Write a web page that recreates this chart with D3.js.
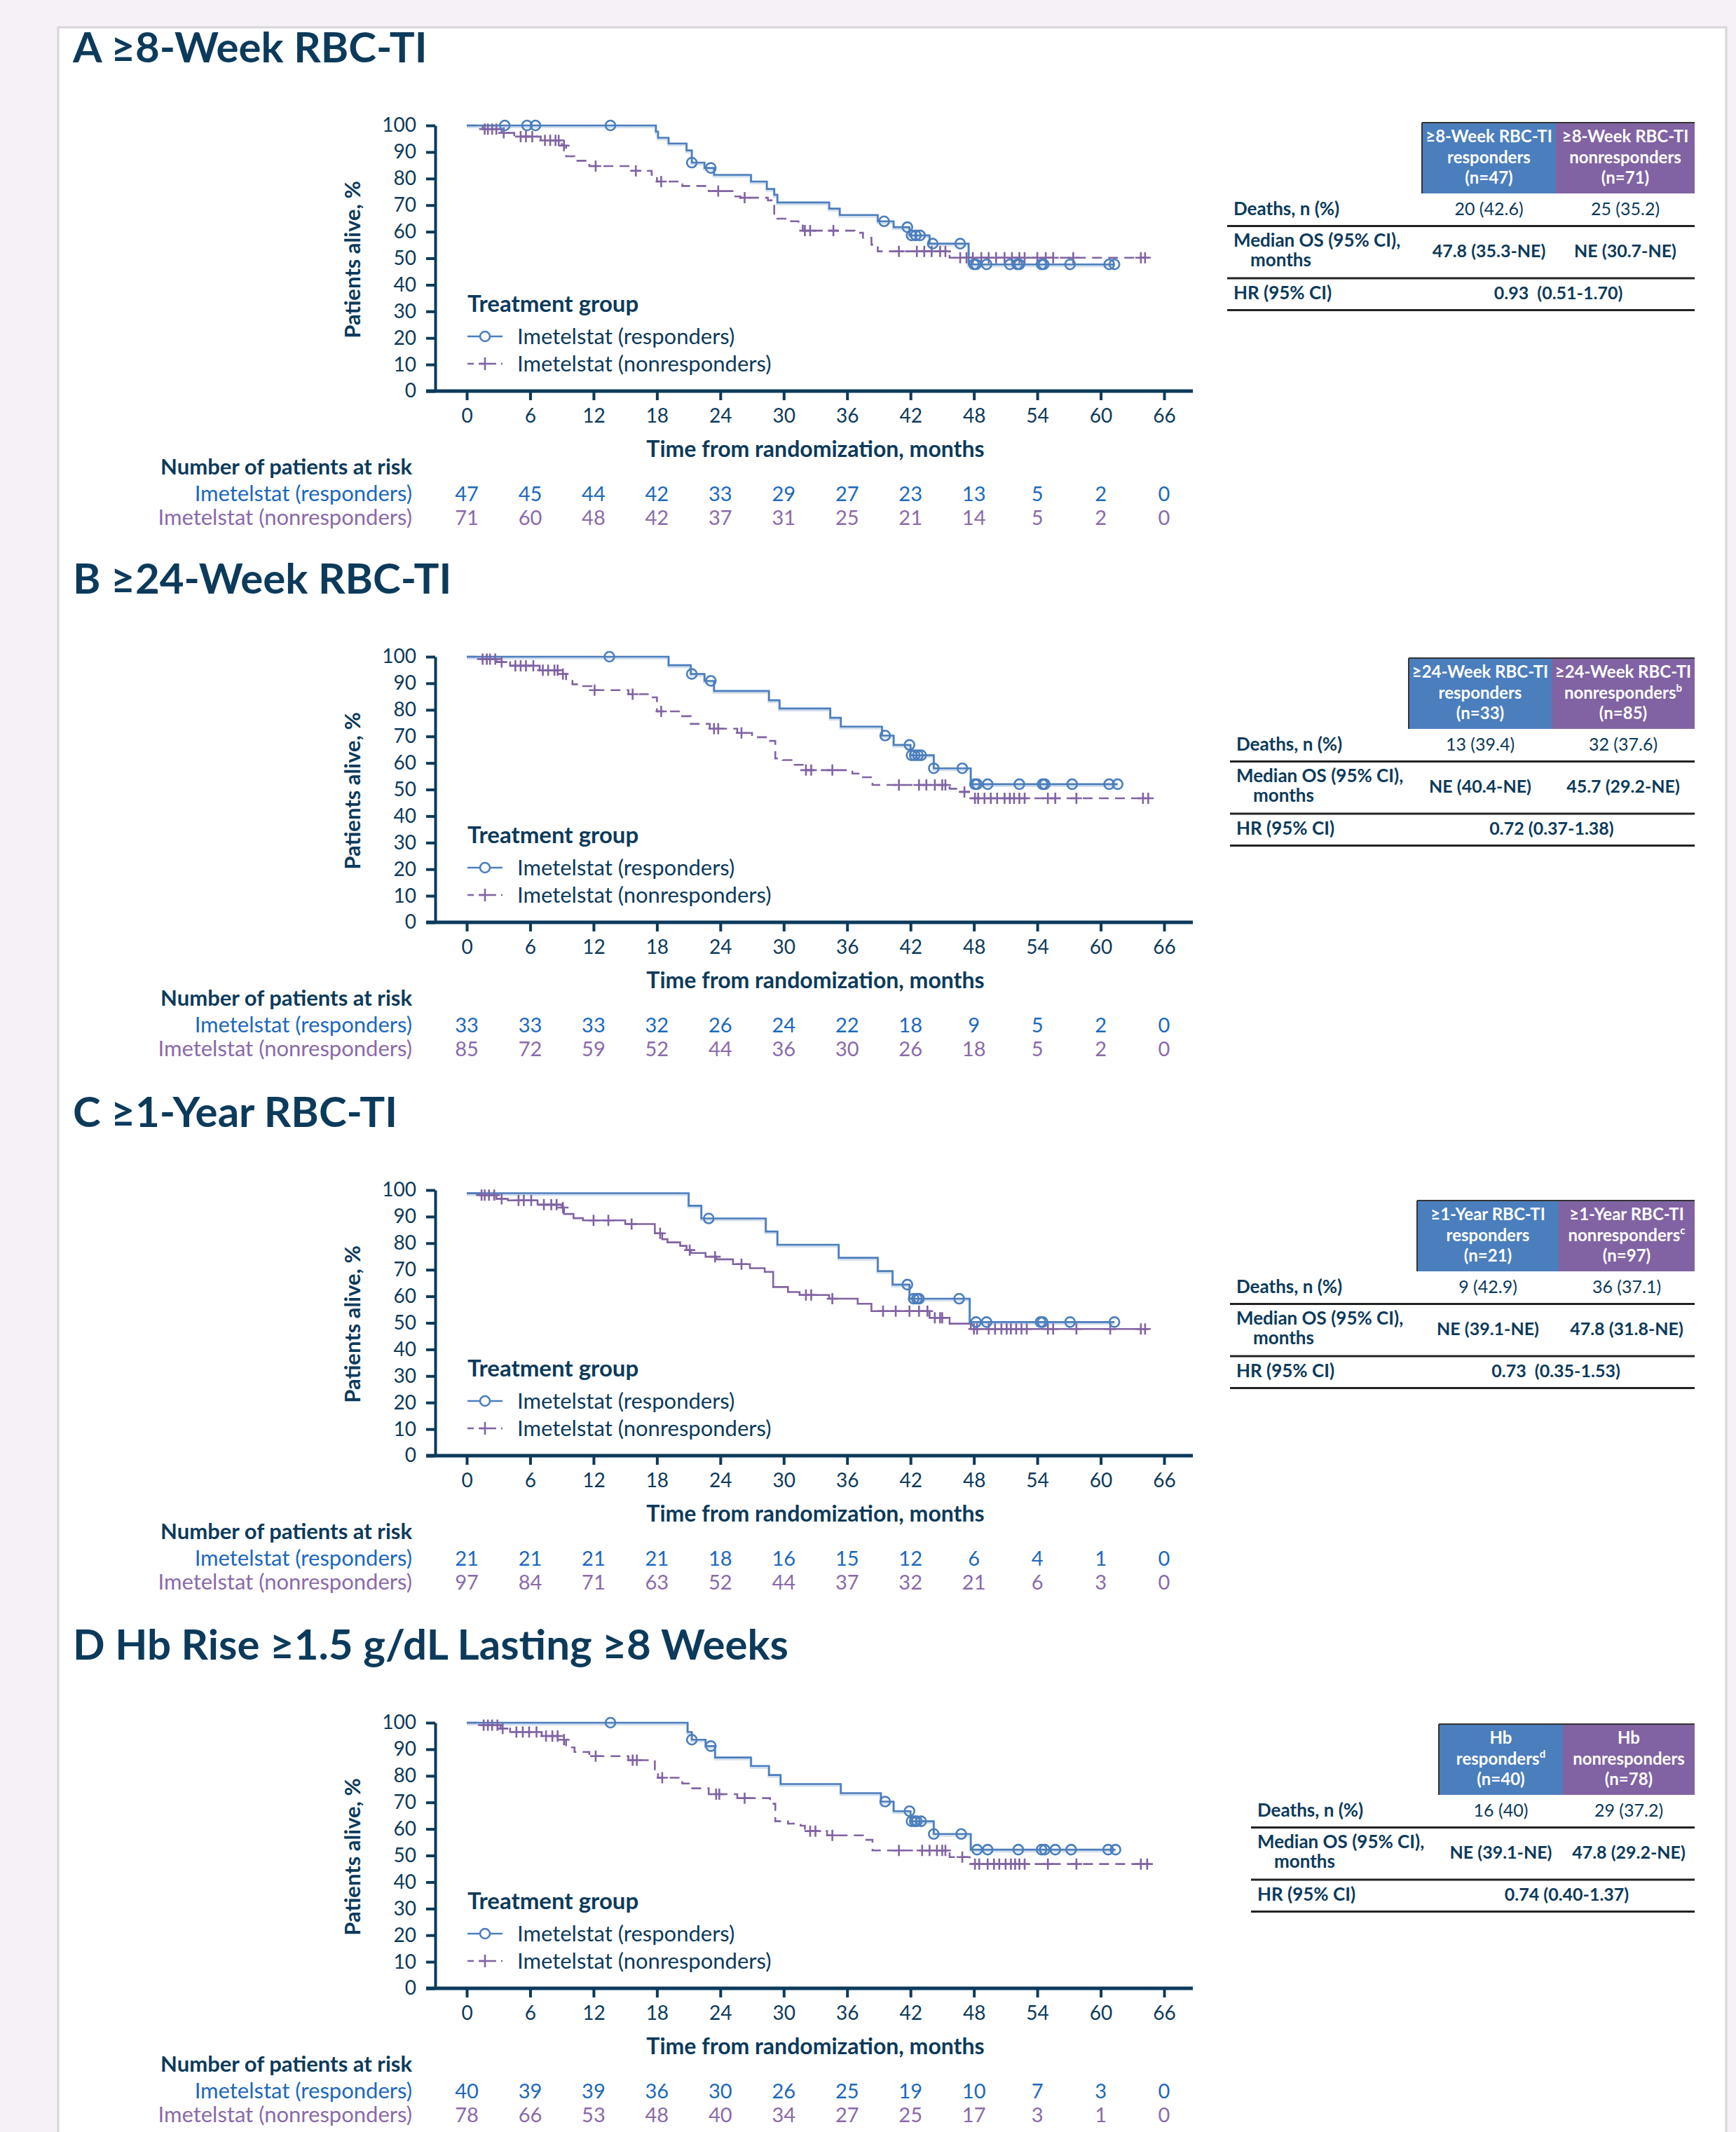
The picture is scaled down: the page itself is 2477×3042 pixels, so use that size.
<!DOCTYPE html>
<html>
<head>
<meta charset="utf-8">
<script src="https://cdn.jsdelivr.net/npm/d3@7"></script>
<style>
  body { margin: 0; background: #f5f1f6; }
  text { font-family: Lato, "Open Sans", sans-serif; fill: #0c3a5b; }
</style>
</head>
<body>
<div id="chart"></div>
<script>
// OS by response status, four panels (A-D)

// shared axis ticks
var monthTicks = [0, 6, 12, 18, 24, 30, 36, 42, 48, 54, 60, 66];
var pctTicks = [0, 10, 20, 30, 40, 50, 60, 70, 80, 90, 100];
var seriesNames = ["Imetelstat (responders)", "Imetelstat (nonresponders)"];

// ---- Panel A: >=8-week RBC-TI
var aTitle = "A \u22658-Week RBC-TI";
var aRespSteps = [[0,100],[17.9,97.7],[18.1,95.4],[19.1,93.2],[20.8,90.6],[21.3,86.0],[22.5,84.0],[23.4,81.4],[26.9,78.9],[28.4,76.1],[29.1,73.9],[29.4,71.0],[34.3,68.7],[35.3,66.3],[38.9,63.9],[40.4,61.7],[41.9,58.6],[43.8,55.5],[47.5,47.7]];
var aRespEnd = 61.3;
var aRespCens = [3.6,5.7,6.5,13.6,21.3,23.1,39.5,41.7,42.1,42.5,42.9,44.1,46.7,48.0,48.2,49.2,51.4,52.1,52.3,54.4,54.6,57.1,60.8,61.3];
var aNonSteps = [[0,100],[1.5,98.6],[3.3,97.2],[4.5,95.8],[7.0,94.4],[9.0,92.4],[9.4,88.4],[10.2,86.7],[11.6,84.7],[15.3,82.9],[17.5,81.4],[18.0,78.9],[20.2,77.9],[20.4,77.2],[22.9,75.3],[25.3,73.3],[25.9,72.8],[28.5,71.8],[29.1,64.9],[30.7,63.9],[31.4,62.8],[31.8,60.4],[36.7,59.6],[37.5,57.7],[38.3,55.1],[38.9,52.6],[45.7,50.2]];
var aNonEnd = 64.6;
var aNonCens = [1.7,2.0,2.4,2.8,3.5,5.1,5.6,6.2,7.4,7.9,8.4,8.7,9.2,12.2,16.0,18.4,23.8,26.3,32.0,32.5,34.7,40.9,42.6,43.3,44.0,44.8,45.3,46.7,47.3,47.9,48.7,49.4,50.1,50.9,51.6,52.3,52.8,54.0,54.8,55.5,57.4,63.8,64.2];
var aRespRisk = [47,45,44,42,33,29,27,23,13,5,2,0];
var aNonRisk = [71,60,48,42,37,31,25,21,14,5,2,0];
var aHead = [["\u22658-Week RBC-TI","responders","(n=47)"],["\u22658-Week RBC-TI","nonresponders","(n=71)"]];
var aSup = ["", ""];
var aDeaths = ["20 (42.6)","25 (35.2)"];
var aMedian = ["47.8 (35.3-NE)","NE (30.7-NE)"];
var aHR = "0.93  (0.51-1.70)";

// ---- Panel B: >=24-week RBC-TI
var bTitle = "B \u226524-Week RBC-TI";
var bRespSteps = [[0,100],[19.1,96.8],[21.2,93.5],[22.5,90.9],[23.4,87.1],[28.6,83.6],[29.6,80.5],[34.4,77.0],[35.4,73.7],[39.3,70.3],[40.4,66.8],[42.0,62.9],[44.2,58.0],[47.7,52.0]];
var bRespEnd = 61.6;
var bRespCens = [13.5,21.3,23.1,39.6,41.9,42.1,42.4,42.7,43.0,44.2,46.9,48.1,48.3,49.3,52.3,54.5,54.7,57.3,60.8,61.6];
var bNonSteps = [[0,100],[1.0,99.1],[2.8,98.0],[4.1,96.6],[6.9,94.9],[9.0,93.5],[9.4,90.9],[10.0,89.6],[10.7,88.9],[11.8,87.4],[15.3,85.9],[17.5,84.7],[18.0,79.4],[20.2,77.6],[21.2,74.7],[23.0,72.9],[25.6,71.3],[27.0,69.7],[28.7,68.3],[29.2,61.7],[29.9,61.1],[30.9,59.3],[31.8,57.3],[36.5,56.0],[37.5,54.6],[38.4,51.7],[45.7,50.3],[46.5,49.1],[47.7,46.7]];
var bNonEnd = 64.6;
var bNonCens = [1.5,1.9,2.2,2.7,3.3,4.6,5.1,5.6,6.3,7.2,7.7,8.3,8.6,9.1,12.1,15.7,18.4,23.4,23.8,26.0,32.1,32.6,34.6,40.9,42.8,43.5,44.3,45.0,45.3,47.1,48.1,48.4,49.0,49.6,50.2,50.9,51.4,51.8,52.3,52.8,55.0,55.7,57.7,64.0,64.5];
var bRespRisk = [33,33,33,32,26,24,22,18,9,5,2,0];
var bNonRisk = [85,72,59,52,44,36,30,26,18,5,2,0];
var bHead = [["\u226524-Week RBC-TI","responders","(n=33)"],["\u226524-Week RBC-TI","nonresponders","(n=85)"]];
var bSup = ["", "b"];
var bDeaths = ["13 (39.4)","32 (37.6)"];
var bMedian = ["NE (40.4-NE)","45.7 (29.2-NE)"];
var bHR = "0.72 (0.37-1.38)";

// ---- Panel C: >=1-year RBC-TI
var cTitle = "C \u22651-Year RBC-TI";
var cRespSteps = [[0,98.8],[21.0,94.1],[22.2,89.3],[28.3,84.4],[29.4,79.4],[35.2,74.5],[38.9,69.5],[40.3,64.4],[41.9,59.1],[47.6,50.3]];
var cRespEnd = 61.3;
var cRespCens = [22.9,41.7,42.3,42.6,42.8,46.6,48.2,49.2,54.3,54.5,57.1,61.3];
var cNonSteps = [[0,98.8],[1.2,98.1],[2.8,96.7],[3.9,96.1],[6.7,94.5],[9.0,93.4],[9.2,91.0],[10.1,89.4],[11.0,88.6],[15.0,87.2],[17.8,83.7],[18.5,81.5],[19.0,80.3],[20.2,79.0],[20.8,77.4],[21.2,76.3],[22.6,74.9],[23.6,73.9],[25.2,72.1],[26.8,70.6],[28.2,69.2],[29.0,63.5],[30.4,61.6],[31.5,60.5],[34.3,59.1],[37.0,57.2],[38.3,54.4],[43.8,51.9],[45.7,49.7],[47.7,47.7]];
var cNonEnd = 64.6;
var cNonCens = [1.4,1.7,2.1,2.6,3.3,4.9,5.4,6.1,7.3,8.0,8.5,9.1,12.0,13.4,15.6,18.3,21.1,23.5,26.0,32.1,32.6,34.6,39.4,40.6,41.9,42.8,43.6,44.3,44.8,45.0,48.0,48.3,49.4,50.0,50.6,51.1,51.5,52.0,52.5,53.0,55.0,55.5,57.7,60.9,63.8,64.2];
var cRespRisk = [21,21,21,21,18,16,15,12,6,4,1,0];
var cNonRisk = [97,84,71,63,52,44,37,32,21,6,3,0];
var cHead = [["\u22651-Year RBC-TI","responders","(n=21)"],["\u22651-Year RBC-TI","nonresponders","(n=97)"]];
var cSup = ["", "c"];
var cDeaths = ["9 (42.9)","36 (37.1)"];
var cMedian = ["NE (39.1-NE)","47.8 (31.8-NE)"];
var cHR = "0.73  (0.35-1.53)";

// ---- Panel D: Hb rise >=1.5 g/dL lasting >=8 weeks
var dTitle = "D Hb Rise \u22651.5 g/dL Lasting \u22658 Weeks";
var dRespSteps = [[0,100],[20.9,96.5],[21.3,93.6],[22.6,91.2],[23.5,86.9],[26.9,83.7],[28.6,80.3],[29.7,76.9],[35.4,73.5],[39.2,70.3],[40.4,66.7],[42.0,62.9],[44.2,58.1],[47.7,52.2]];
var dRespEnd = 61.4;
var dRespCens = [13.6,21.3,23.1,39.6,41.9,42.1,42.4,42.6,43.0,44.2,46.8,48.3,49.3,52.2,54.4,54.7,55.7,57.2,60.7,61.4];
var dNonSteps = [[0,100],[1.2,99.1],[3.2,97.8],[4.1,96.5],[7.1,95.0],[9.0,93.6],[9.4,90.7],[10.2,89.0],[11.6,87.4],[15.3,85.9],[17.8,82.1],[18.1,79.3],[20.4,77.1],[21.2,75.3],[22.9,73.1],[25.6,71.6],[28.7,69.5],[29.2,62.9],[30.4,62.0],[31.6,61.2],[32.0,59.2],[34.1,57.6],[37.5,55.9],[38.4,51.9],[45.7,49.4],[47.6,46.8]];
var dNonEnd = 64.6;
var dNonCens = [1.6,2.0,2.4,2.9,3.4,4.7,5.3,5.9,6.6,7.5,8.1,8.6,9.2,12.2,15.7,16.1,18.5,23.6,23.9,26.3,32.5,33.0,34.6,40.9,43.1,43.8,44.5,45.0,45.3,46.9,48.1,48.5,49.3,49.9,50.4,51.0,51.5,51.9,52.3,52.8,55.0,57.7,63.8,64.4];
var dRespRisk = [40,39,39,36,30,26,25,19,10,7,3,0];
var dNonRisk = [78,66,53,48,40,34,27,25,17,3,1,0];
var dHead = [["Hb","responders","(n=40)"],["Hb","nonresponders","(n=78)"]];
var dSup = ["d", ""];
var dDeaths = ["16 (40)","29 (37.2)"];
var dMedian = ["NE (39.1-NE)","47.8 (29.2-NE)"];
var dHR = "0.74 (0.40-1.37)";

// layout (pixels) for each panel
var panels = [
  {title: aTitle, top: 179, resp: aRespSteps, respEnd: aRespEnd, respCens: aRespCens, non: aNonSteps, nonEnd: aNonEnd, nonCens: aNonCens,
   respRisk: aRespRisk, nonRisk: aNonRisk, head: aHead, sup: aSup, deaths: aDeaths, median: aMedian, hr: aHR,
   tab: {top: 175, left: 2029, mid: 2220, textLeft: 1760}, nonDash: "14,9"},
  {title: bTitle, top: 937, resp: bRespSteps, respEnd: bRespEnd, respCens: bRespCens, non: bNonSteps, nonEnd: bNonEnd, nonCens: bNonCens,
   respRisk: bRespRisk, nonRisk: bNonRisk, head: bHead, sup: bSup, deaths: bDeaths, median: bMedian, hr: bHR,
   tab: {top: 939, left: 2010, mid: 2214, textLeft: 1764}, nonDash: "14,9"},
  {title: cTitle, top: 1698, resp: cRespSteps, respEnd: cRespEnd, respCens: cRespCens, non: cNonSteps, nonEnd: cNonEnd, nonCens: cNonCens,
   respRisk: cRespRisk, nonRisk: cNonRisk, head: cHead, sup: cSup, deaths: cDeaths, median: cMedian, hr: cHR,
   tab: {top: 1713, left: 2022, mid: 2224, textLeft: 1764}, nonDash: null},
  {title: dTitle, top: 2458, resp: dRespSteps, respEnd: dRespEnd, respCens: dRespCens, non: dNonSteps, nonEnd: dNonEnd, nonCens: dNonCens,
   respRisk: dRespRisk, nonRisk: dNonRisk, head: dHead, sup: dSup, deaths: dDeaths, median: dMedian, hr: dHR,
   tab: {top: 2460, left: 2053, mid: 2230, textLeft: 1794}, nonDash: "14,9"}
];

var W = 2477, H = 3042;
var navy = "#0c3a5b";
var blue = "#4b7ebd", purple = "#8163a3";
var riskBlue = "#1c68bd", riskPurple = "#8a6aaa";
var plotH = 379;
var tabRight = 2418;

var svg = d3.select("#chart").append("svg")
  .attr("width", W)
  .attr("height", H);

// card
svg.append("rect")
  .attr("x", 83).attr("y", 39)
  .attr("width", 2380).attr("height", 3100)
  .attr("fill", "#fff")
  .attr("stroke", "#d8d6da")
  .attr("stroke-width", 3);

var x = d3.scaleLinear().domain([0, 66]).range([666, 1661]);
var bisect = d3.bisector(function(d) { return d[0]; }).right;

function survAt(steps, t) {
  return steps[Math.max(0, bisect(steps, t) - 1)][1];
}

panels.forEach(function(p) {
  var top = p.top;
  var y = d3.scaleLinear().domain([0, 100]).range([top + plotH, top]);
  var g = svg.append("g");

  // Title
  g.append("text")
    .attr("x", 104).attr("y", top - 90)
    .attr("font-size", 60).attr("font-weight", 700)
    .text(p.title);

  // y axis
  var yAxis = d3.axisLeft(y).tickValues(pctTicks).tickSize(13).tickSizeOuter(0).tickPadding(14);
  var gy = g.append("g").attr("transform", "translate(621,0)").call(yAxis);
  gy.select(".domain").attr("stroke", navy).attr("stroke-width", 4);
  gy.selectAll(".tick line").attr("stroke", navy).attr("stroke-width", 4);
  gy.selectAll(".tick text").attr("font-size", 28).attr("font-family", "Lato").attr("fill", navy);

  // x axis
  var xAxis = d3.axisBottom(x).tickValues(monthTicks).tickSize(13).tickSizeOuter(0).tickPadding(12);
  var gx = g.append("g").attr("transform", "translate(0," + (top + plotH) + ")").call(xAxis);
  gx.select(".domain").remove();
  gx.selectAll(".tick line").attr("stroke", navy).attr("stroke-width", 4);
  gx.selectAll(".tick text").attr("font-size", 28).attr("font-family", "Lato").attr("fill", navy);
  g.append("line")
    .attr("x1", 608).attr("x2", 1702)
    .attr("y1", top + plotH).attr("y2", top + plotH)
    .attr("stroke", navy).attr("stroke-width", 5);

  // y axis title
  g.append("text")
    .attr("transform", "translate(514," + (top + plotH / 2 + 2) + ") rotate(-90)")
    .attr("text-anchor", "middle")
    .attr("font-family", "'DejaVu Sans', Verdana, sans-serif")
    .attr("font-size", 31).attr("font-weight", 700)
    .text("Patients alive, %");

  // curves
  var line = d3.line()
    .x(function(d) { return x(d[0]); })
    .y(function(d) { return y(d[1]); })
    .curve(d3.curveStepAfter);

  var nonData = p.non.concat([[p.nonEnd, p.non[p.non.length - 1][1]]]);
  var respData = p.resp.concat([[p.respEnd, p.resp[p.resp.length - 1][1]]]);

  // faint halo under the lines
  g.append("path").attr("d", line(respData)).attr("transform", "translate(0,2)")
    .attr("fill", "none").attr("stroke", blue).attr("stroke-opacity", 0.25).attr("stroke-width", 4);

  g.append("path").attr("d", line(nonData))
    .attr("fill", "none").attr("stroke", purple).attr("stroke-width", 2.6)
    .attr("stroke-dasharray", p.nonDash);
  g.append("path").attr("d", line(respData))
    .attr("fill", "none").attr("stroke", blue).attr("stroke-width", 2.6);

  // censor marks
  g.append("g").selectAll("path")
    .data(p.nonCens).enter()
    .append("path")
    .attr("transform", function(t) { return "translate(" + x(t) + "," + y(survAt(p.non, t)) + ")"; })
    .attr("d", "M-8,0H8M0,-8V8")
    .attr("stroke", purple).attr("stroke-width", 2.6).attr("fill", "none");
  g.append("g").selectAll("circle")
    .data(p.respCens).enter()
    .append("circle")
    .attr("cx", function(t) { return x(t); })
    .attr("cy", function(t) { return y(survAt(p.resp, t)); })
    .attr("r", 7)
    .attr("fill", "none").attr("stroke", blue).attr("stroke-width", 2.6);

  // legend
  g.append("text").attr("x", 667).attr("y", top + 266)
    .attr("font-size", 33).attr("font-weight", 700).text("Treatment group");
  g.append("line").attr("x1", 667).attr("x2", 717)
    .attr("y1", top + 301).attr("y2", top + 301)
    .attr("stroke", blue).attr("stroke-width", 2.6);
  g.append("circle").attr("cx", 692).attr("cy", top + 301).attr("r", 7)
    .attr("fill", "#fff").attr("stroke", blue).attr("stroke-width", 2.6);
  g.append("line").attr("x1", 667).attr("x2", 717)
    .attr("y1", top + 340).attr("y2", top + 340)
    .attr("stroke", purple).attr("stroke-width", 2.6).attr("stroke-dasharray", "9,7");
  g.append("path").attr("transform", "translate(692," + (top + 340) + ")")
    .attr("d", "M-8,0H8M0,-9V9").attr("stroke", purple).attr("stroke-width", 2.6);
  g.selectAll(".legtxt").data(seriesNames).enter()
    .append("text")
    .attr("x", 738)
    .attr("y", function(d, i) { return top + 312 + i * 39; })
    .attr("font-size", 31)
    .text(function(d) { return d; });

  // x axis title and numbers at risk
  g.append("text").attr("x", x(33)).attr("y", top + 473)
    .attr("text-anchor", "middle").attr("font-size", 32).attr("font-weight", 700)
    .text("Time from randomization, months");
  g.append("text").attr("x", 588).attr("y", top + 498)
    .attr("text-anchor", "end").attr("font-size", 31).attr("font-weight", 700)
    .text("Number of patients at risk");

  [p.respRisk, p.nonRisk].forEach(function(row, i) {
    var col = i === 0 ? riskBlue : riskPurple;
    var yy = top + 536 + i * 34;
    g.append("text").attr("x", 588).attr("y", yy)
      .attr("text-anchor", "end").attr("font-size", 31)
      .style("fill", col).text(seriesNames[i]);
    g.append("g").selectAll("text")
      .data(row).enter()
      .append("text")
      .attr("x", function(d, j) { return x(monthTicks[j]); })
      .attr("y", yy)
      .attr("text-anchor", "middle").attr("font-size", 29)
      .style("fill", col)
      .text(function(d) { return d; });
  });

  // summary table
  var t = p.tab;
  var cols = [{x0: t.left, x1: t.mid, fill: blue}, {x0: t.mid, x1: tabRight, fill: purple}];
  cols.forEach(function(c, i) {
    g.append("rect").attr("x", c.x0).attr("y", t.top)
      .attr("width", c.x1 - c.x0).attr("height", 101).attr("fill", c.fill);
    var cx = (c.x0 + c.x1) / 2;
    p.head[i].forEach(function(s, k) {
      var tx = g.append("text").attr("x", cx).attr("y", t.top + 28 + k * 29.5)
        .attr("text-anchor", "middle").attr("font-size", 24).attr("font-weight", 700)
        .style("fill", "#fff");
      tx.append("tspan").text(s);
      if (k === 1 && p.sup[i]) {
        tx.append("tspan").attr("font-size", 15).attr("dy", -10).text(p.sup[i]);
      }
    });
    g.append("text").attr("x", cx).attr("y", t.top + 132)
      .attr("text-anchor", "middle").attr("font-size", 25)
      .text(p.deaths[i]);
    g.append("text").attr("x", cx).attr("y", t.top + 192)
      .attr("text-anchor", "middle").attr("font-size", 25).attr("font-weight", 700)
      .text(p.median[i]);
  });
  g.append("line").attr("x1", t.left).attr("x2", tabRight)
    .attr("y1", t.top).attr("y2", t.top).attr("stroke", "#333").attr("stroke-width", 2);
  g.append("line").attr("x1", t.left).attr("x2", t.left)
    .attr("y1", t.top).attr("y2", t.top + 101).attr("stroke", "#333").attr("stroke-width", 2);

  g.append("text").attr("x", t.textLeft).attr("y", t.top + 132)
    .attr("font-size", 26).attr("font-weight", 700).text("Deaths, n (%)");
  g.append("text").attr("x", t.textLeft).attr("y", t.top + 177)
    .attr("font-size", 26).attr("font-weight", 700).text("Median OS (95% CI),");
  g.append("text").attr("x", t.textLeft + 24).attr("y", t.top + 205)
    .attr("font-size", 26).attr("font-weight", 700).text("months");
  g.append("text").attr("x", t.textLeft).attr("y", t.top + 252)
    .attr("font-size", 26).attr("font-weight", 700).text("HR (95% CI)");
  g.append("text").attr("x", (t.left + tabRight) / 2).attr("y", t.top + 252)
    .attr("text-anchor", "middle").style("white-space", "pre")
    .attr("font-size", 25).attr("font-weight", 700).text(p.hr);

  [147.5, 222, 267.5].forEach(function(dy) {
    g.append("line").attr("x1", t.textLeft - 9).attr("x2", tabRight)
      .attr("y1", t.top + dy).attr("y2", t.top + dy)
      .attr("stroke", "#222").attr("stroke-width", 3);
  });
});
</script>
</body>
</html>
